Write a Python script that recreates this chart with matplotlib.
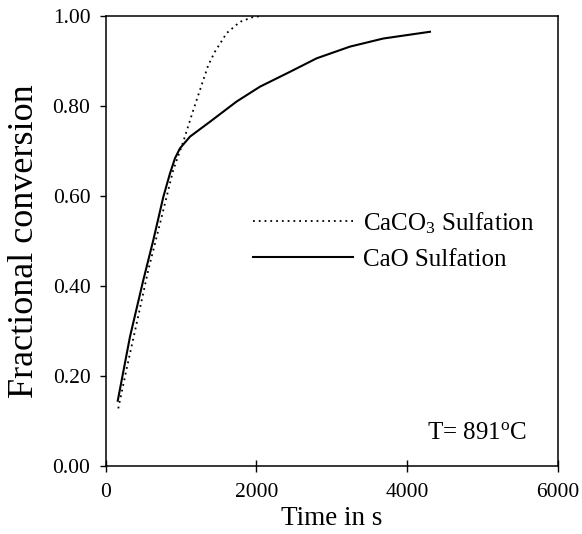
import matplotlib
matplotlib.use("Agg")
import matplotlib.pyplot as plt

t_caco3 = [167, 279, 411, 566, 721, 897, 1030, 1163, 1274, 1362, 1451, 1606, 1782,
           1959, 2080]
x_caco3 = [0.128, 0.217, 0.317, 0.436, 0.539, 0.658, 0.721, 0.791, 0.847, 0.891,
           0.921, 0.962, 0.987, 0.998, 1.0]

t_cao = [160, 322, 499, 632, 765, 853, 920, 986, 1119, 1384, 1738, 2048, 2446,
         2800, 3242, 3684, 4304]
x_cao = [0.145, 0.287, 0.413, 0.502, 0.598, 0.650, 0.684, 0.706, 0.732, 0.765,
         0.810, 0.843, 0.876, 0.906, 0.932, 0.950, 0.965]

x_ticks = [0, 2000, 4000, 6000]
y_ticks = [0.0, 0.2, 0.4, 0.6, 0.8, 1.0]

plt.rcParams["font.family"] = ["Liberation Serif", "DejaVu Serif"]
plt.rcParams["mathtext.fontset"] = "custom"
plt.rcParams["mathtext.rm"] = "Liberation Serif"
plt.rcParams["mathtext.it"] = "Liberation Serif:italic"

fig = plt.figure(figsize=(5.82, 5.34), dpi=100)
ax = fig.add_axes([0.1816, 0.1273, 0.7767, 0.8427])

ax.plot(t_caco3, x_caco3, color="black", lw=1.3, linestyle=(0, (1, 2.2)),
        label=r"CaCO$_3$ Sulfation")
ax.plot(t_cao, x_cao, color="black", lw=1.5, label="CaO Sulfation")

ax.set_xlim(0, 6000)
ax.set_ylim(0, 1.0)
ax.set_xticks(x_ticks)
ax.set_yticks(y_ticks)
ax.set_yticklabels([f"{v:.2f}" for v in y_ticks])

for s in ax.spines.values():
    s.set_linewidth(1.1)
ax.tick_params(axis="y", direction="out", length=4, width=1, pad=7, labelsize=15.5)
ax.tick_params(axis="x", direction="inout", length=8, width=1, pad=8, labelsize=15.5)

ax.set_xlabel("Time in s", fontsize=19.5, labelpad=3)
ax.set_ylabel("Fractional conversion", fontsize=26, labelpad=8)

leg = ax.legend(loc="upper left", bbox_to_anchor=(0.276, 0.619), frameon=False,
                fontsize=18, handlelength=4.0, handletextpad=0.4, labelspacing=0.5)

ax.text(0.71, 0.073, r"T= 891$^{\rm o}$C", transform=ax.transAxes, fontsize=18,
        ha="left", va="center")

fig.savefig("out.png", dpi=100)
